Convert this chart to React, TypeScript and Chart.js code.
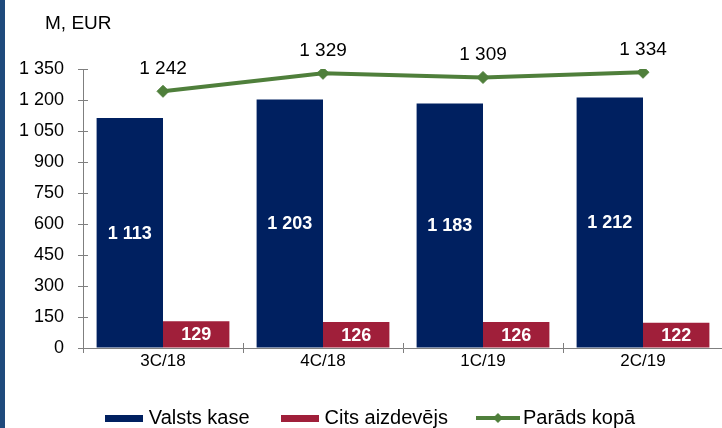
import React, { useEffect, useRef } from 'react';
import { Chart, registerables } from 'chart.js';

Chart.register(...registerables);

const categories = ['3C/18', '4C/18', '1C/19', '2C/19'];
const treasury = [1113, 1203, 1183, 1212];
const otherLender = [129, 126, 126, 122];
const totalDebt = [1242, 1329, 1309, 1334];
const seriesNames = ['Valsts kase', 'Cits aizdevējs', 'Parāds kopā'];
const unitLabel = 'M, EUR';
const yMin = 0;
const yMax = 1350;
const yStep = 150;

const FONT = "Arial, 'Liberation Sans', sans-serif";
const NAVY = '#002060';
const RED = '#A01F3A';
const GREEN = '#4F7F3B';
const AXIS = '#7f7f7f';

const fmt = (n: number) => String(n).replace(/\B(?=(\d{3})+(?!\d))/g, ' ');

function boxImage(color: string) {
  const c = document.createElement('canvas');
  c.width = 38;
  c.height = 7;
  const ctx = c.getContext('2d')!;
  ctx.fillStyle = color;
  ctx.fillRect(0, 0, 38, 7);
  return c;
}

function lineImage(color: string) {
  const c = document.createElement('canvas');
  c.width = 44;
  c.height = 12;
  const ctx = c.getContext('2d')!;
  ctx.strokeStyle = color;
  ctx.lineWidth = 4;
  ctx.beginPath();
  ctx.moveTo(0, 6);
  ctx.lineTo(44, 6);
  ctx.stroke();
  ctx.fillStyle = color;
  ctx.beginPath();
  ctx.moveTo(22, 1);
  ctx.lineTo(27, 6);
  ctx.lineTo(22, 11);
  ctx.lineTo(17, 6);
  ctx.closePath();
  ctx.fill();
  return c;
}

const innerTicks = {
  id: 'innerTicks',
  beforeDatasetsDraw(chart: any) {
    const { ctx, chartArea, scales } = chart;
    const x = scales.x;
    const y = scales.y;
    ctx.save();
    ctx.strokeStyle = AXIS;
    ctx.lineWidth = 1;
    ctx.beginPath();
    for (let v = yMin; v <= yMax; v += yStep) {
      const py = Math.round(y.getPixelForValue(v)) + 0.5;
      ctx.moveTo(chartArea.left, py);
      ctx.lineTo(chartArea.left + 5, py);
    }
    for (let i = 0; i <= categories.length; i++) {
      const px = Math.round(x.getPixelForValue(i - 0.5)) + 0.5;
      ctx.moveTo(px, chartArea.bottom);
      ctx.lineTo(px, chartArea.bottom - 5);
    }
    ctx.stroke();
    ctx.restore();
  },
};

const labelsPlugin = {
  id: 'valueLabels',
  afterDatasetsDraw(chart: any) {
    const { ctx } = chart;
    ctx.save();
    ctx.textAlign = 'center';
    ctx.textBaseline = 'middle';
    [0, 1].forEach((di) => {
      const meta = chart.getDatasetMeta(di);
      const data = chart.data.datasets[di].data as number[];
      ctx.fillStyle = '#ffffff';
      ctx.font = `bold 18px ${FONT}`;
      meta.data.forEach((el: any, i: number) => {
        const cy = (el.y + el.base) / 2;
        ctx.fillText(fmt(data[i]), el.x, cy + 1);
      });
    });
    const lm = chart.getDatasetMeta(2);
    ctx.fillStyle = '#000000';
    ctx.font = `19px ${FONT}`;
    lm.data.forEach((el: any, i: number) => {
      ctx.fillText(fmt(totalDebt[i]), el.x, el.y - 23);
    });
    ctx.textAlign = 'left';
    ctx.font = `19px ${FONT}`;
    ctx.fillText(unitLabel, 45, 24);
    ctx.restore();
  },
};

export default function App() {
  const ref = useRef<HTMLCanvasElement>(null);

  useEffect(() => {
    const images = [boxImage(NAVY), boxImage(RED), lineImage(GREEN)];
    const chart = new Chart(ref.current!, {
      type: 'bar',
      data: {
        labels: categories,
        datasets: [
          {
            type: 'bar',
            label: seriesNames[0],
            data: treasury,
            backgroundColor: NAVY,
            borderWidth: 0,
            categoryPercentage: 0.83,
            barPercentage: 1,
          },
          {
            type: 'bar',
            label: seriesNames[1],
            data: otherLender,
            backgroundColor: RED,
            borderWidth: 0,
            categoryPercentage: 0.83,
            barPercentage: 1,
          },
          {
            type: 'line',
            label: seriesNames[2],
            data: totalDebt,
            borderColor: GREEN,
            backgroundColor: GREEN,
            borderWidth: 4,
            pointStyle: 'rectRot',
            pointRadius: 6,
            pointBackgroundColor: GREEN,
            pointBorderColor: GREEN,
            pointBorderWidth: 1,
            tension: 0,
          } as any,
        ],
      },
      options: {
        animation: false,
        responsive: false,
        devicePixelRatio: 1,
        layout: { padding: { top: 69, right: 2, left: 16, bottom: 0 } },
        plugins: {
          tooltip: { enabled: false },
          title: { display: false },
          legend: {
            display: true,
            position: 'bottom',
            onClick: () => {},
            labels: {
              usePointStyle: true,
              pointStyleWidth: 30,
              padding: 35,
              color: '#000',
              font: { family: FONT, size: 20 },
              generateLabels: (ch: any) =>
                ch.data.datasets.map((ds: any, i: number) => ({
                  text: ds.label,
                  pointStyle: images[i],
                  fillStyle: 'transparent',
                  strokeStyle: 'transparent',
                  lineWidth: 0,
                  hidden: false,
                  datasetIndex: i,
                  fontColor: '#000',
                })),
            },
          },
        },
        scales: {
          x: {
            type: 'category',
            offset: true,
            grid: {
              display: true,
              drawOnChartArea: false,
              drawTicks: true,
              tickLength: 5,
              color: AXIS,
              offset: true,
            },
            border: { display: true, color: AXIS, width: 1 },
            ticks: { color: '#000', font: { family: FONT, size: 17 }, padding: -2, maxRotation: 0 },
            afterFit: (s: any) => {
              s.height = 25;
            },
          },
          y: {
            min: yMin,
            max: yMax,
            grid: {
              display: true,
              drawOnChartArea: false,
              drawTicks: true,
              tickLength: 5,
              color: AXIS,
            },
            border: { display: true, color: AXIS, width: 1 },
            ticks: {
              stepSize: yStep,
              color: '#000',
              font: { family: FONT, size: 18 },
              padding: 14,
              callback: (v: any) => fmt(Number(v)),
            },
            afterFit: (s: any) => {
              s.width = 67;
            },
          },
        },
      } as any,
      plugins: [innerTicks, labelsPlugin],
    });
    return () => chart.destroy();
  }, []);

  return (
    <div
      style={{
        position: 'fixed',
        left: 0,
        top: 0,
        width: 722,
        height: 428,
        overflow: 'hidden',
        background: '#ffffff',
      }}
    >
      <canvas
        ref={ref}
        width={730}
        height={438}
        style={{ position: 'absolute', left: 0, top: 0, display: 'block' }}
      />
      <div
        style={{
          position: 'absolute',
          left: 0,
          top: 0,
          width: 5,
          height: 428,
          background: '#1f4a7c',
        }}
      />
    </div>
  );
}
